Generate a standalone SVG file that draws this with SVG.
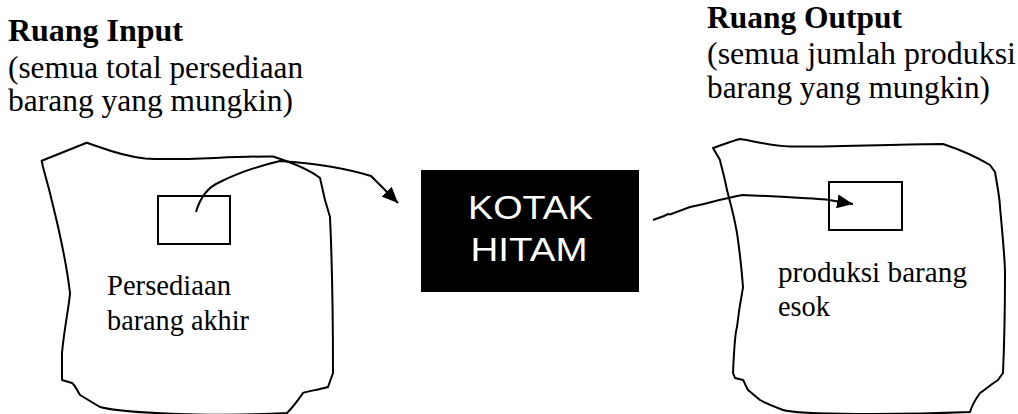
<svg xmlns="http://www.w3.org/2000/svg" width="1018" height="414" viewBox="0 0 1018 414">
<style>
.hdr{font-family:"Liberation Serif","Times New Roman",serif;font-size:32px;fill:#000}
.b{font-weight:bold}
.lbl{font-family:"Liberation Serif","Times New Roman",serif;font-size:29px;fill:#000}
.bx{font-family:"Liberation Sans",Arial,sans-serif;font-size:33px;fill:#fff}
.blob{fill:none;stroke:#000;stroke-width:2;stroke-linejoin:round}
.sq{fill:#fff;stroke:#000;stroke-width:2}
.con{fill:none;stroke:#000;stroke-width:2}
</style>
<defs>
<marker id="ah" markerUnits="userSpaceOnUse" markerWidth="16" markerHeight="14" viewBox="0 0 16 14" refX="16" refY="7" orient="auto">
<path d="M0,0 L16,7 L0,14 Z" fill="#000"/>
</marker>
</defs>
<rect width="1018" height="414" fill="#fff"/>
<g id="input-space">
<path class="blob" d="M41.7,160.7 L86.7,142.7 C100,147 120,156 145,158.5 C180,161 230,156 273,156.5 C290,162 310,170 320,178 L325,200 L330,217 C332,260 333,320 333,373 L328,387 C318,390 308,391 303,393 C298,400 294,406 287,413 C240,416 130,415 100,407 L80,395 C76,388 74,384 72,383 L62,380 L62,353 C64,330 70,300 70,293 C65,250 55,215 50,193 L43,167 Z"/>
<rect class="sq" x="158" y="196" width="72" height="48"/>
<text class="lbl" x="107" y="295" textLength="124" lengthAdjust="spacingAndGlyphs">Persediaan</text>
<text class="lbl" x="107" y="330" textLength="142" lengthAdjust="spacingAndGlyphs">barang akhir</text>
</g>
<g id="input-header">
<text class="hdr b" x="8" y="41" textLength="175" lengthAdjust="spacingAndGlyphs">Ruang Input</text>
<text class="hdr" x="8" y="78" textLength="295" lengthAdjust="spacingAndGlyphs">(semua total persediaan</text>
<text class="hdr" x="8" y="111" textLength="285" lengthAdjust="spacingAndGlyphs">barang yang mungkin)</text>
</g>
<g id="black-box">
<rect x="421" y="170" width="218" height="122" fill="#000"/>
<text class="bx" x="530.5" y="219" text-anchor="middle" textLength="125" lengthAdjust="spacingAndGlyphs">KOTAK</text>
<text class="bx" x="529" y="261" text-anchor="middle" textLength="117" lengthAdjust="spacingAndGlyphs">HITAM</text>
</g>
<g id="output-space">
<path class="blob" d="M713,148 C722,145 732,141 740,139 C755,141 770,146 790,146.5 C840,147 900,144 943,144 C955,148 975,156 990,165 L995,172 C998,190 1000,200 1000,207 C1003,240 1005,260 1005,273 C1005,320 1004,350 1003,373 L998,380 C990,385 985,390 980,393 C975,400 972,405 970,412 C900,415 800,415 783,410 C770,405 765,403 760,400 L748,390 C745,385 744,381 743,380 L735,378 L733,373 C734,350 736,330 737,327 C740,300 743,290 743,287 C741,260 738,240 737,233 C733,210 728,195 727,190 C723,170 720,162 720,160 Z"/>
<rect class="sq" x="829" y="182" width="73" height="48"/>
<text class="lbl" x="778" y="282" textLength="189" lengthAdjust="spacingAndGlyphs">produksi barang</text>
<text class="lbl" x="778" y="316" textLength="52" lengthAdjust="spacingAndGlyphs">esok</text>
</g>
<g id="output-header">
<text class="hdr b" x="707" y="28" textLength="195" lengthAdjust="spacingAndGlyphs">Ruang Output</text>
<text class="hdr" x="707" y="64" textLength="309" lengthAdjust="spacingAndGlyphs">(semua jumlah produksi</text>
<text class="hdr" x="707" y="98" textLength="283" lengthAdjust="spacingAndGlyphs">barang yang mungkin)</text>
</g>
<g id="connectors">
<path class="con" marker-end="url(#ah)" d="M196,212 C200,198 208,187 220,182 C232,176 250,168 280,161 C310,163 345,168 371,176 L398,203"/>
<path class="con" marker-end="url(#ah)" d="M653,220 L664,216 L668,214 L670,214.5 L690,207 C705,204 725,198 743,195 C770,196 800,198 826,199.5 L853,204"/>
</g>
</svg>
